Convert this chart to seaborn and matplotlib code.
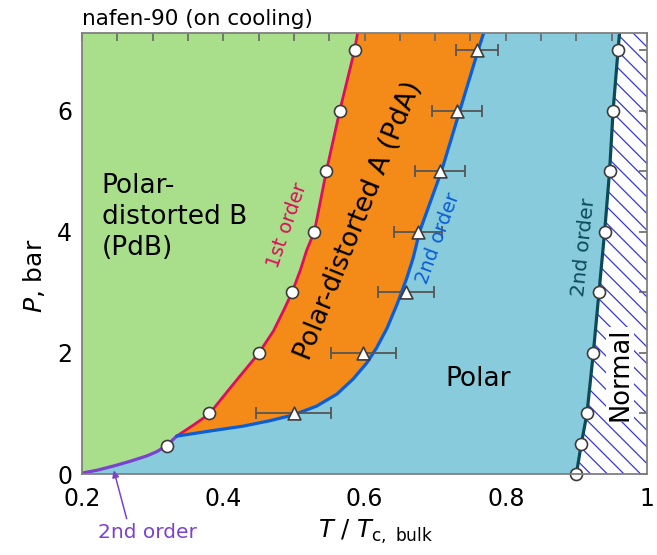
import matplotlib
matplotlib.use("Agg")
import matplotlib.pyplot as plt
import seaborn as sns
import numpy as np

sns.set_theme(style="white")
plt.rcParams['font.family'] = ['DejaVu Sans']
plt.rcParams['mathtext.fontset'] = 'dejavusans'
plt.rcParams['hatch.linewidth'] = 0.9
plt.rcParams['text.color'] = 'black'
plt.rcParams['axes.labelcolor'] = 'black'
plt.rcParams['xtick.labelcolor'] = 'black'
plt.rcParams['ytick.labelcolor'] = 'black'

# ---------------- data ----------------
# PdB -> PdA (1st order) transition, circles
pdb_T = [0.320, 0.380, 0.450, 0.497, 0.529, 0.546, 0.565, 0.586]
pdb_P = [0.47, 1.0, 2.0, 3.0, 4.0, 5.0, 6.0, 7.0]

# PdA -> Polar (2nd order) transition, triangles with error bars
pda_T = [0.500, 0.598, 0.659, 0.676, 0.707, 0.731, 0.759]
pda_P = [1.0, 2.0, 3.0, 4.0, 5.0, 6.0, 7.0]
pda_err = [0.053, 0.046, 0.040, 0.034, 0.035, 0.035, 0.030]

# Polar -> Normal transition, circles
tc_T = [0.900, 0.907, 0.915, 0.924, 0.932, 0.940, 0.947, 0.952, 0.959]
tc_P = [0.0, 0.5, 1.0, 2.0, 3.0, 4.0, 5.0, 6.0, 7.0]

# guide-line knots (phase boundaries)
purple_T = [0.200, 0.222, 0.244, 0.268, 0.292, 0.306, 0.320, 0.334]
purple_P = [0.015, 0.065, 0.13, 0.21, 0.30, 0.37, 0.47, 0.625]

red_T = [0.334, 0.358, 0.380, 0.414, 0.450, 0.471, 0.485, 0.497, 0.509, 0.518,
         0.529, 0.546, 0.565, 0.586, 0.592]
red_P = [0.625, 0.81, 0.99, 1.48, 1.99, 2.36, 2.69, 2.99, 3.36, 3.69,
         4.00, 5.00, 6.00, 7.00, 7.40]

blue_T = [0.334, 0.381, 0.428, 0.466, 0.499, 0.532, 0.561, 0.584, 0.603, 0.617,
          0.632, 0.646, 0.660, 0.669, 0.678, 0.709, 0.735, 0.761, 0.772]
blue_P = [0.625, 0.71, 0.79, 0.88, 0.975, 1.12, 1.32, 1.57, 1.83, 2.08,
          2.41, 2.80, 3.24, 3.57, 4.00, 5.00, 6.00, 7.00, 7.40]

teal_T = [0.900, 0.907, 0.915, 0.924, 0.932, 0.940, 0.947, 0.952, 0.959, 0.962]
teal_P = [0.0, 0.5, 1.0, 2.0, 3.0, 4.0, 5.0, 6.0, 7.0, 7.40]

# ---------------- colours ----------------
c_green = '#a9de8b'
c_orange = '#f48a18'
c_lblue = '#88cbdc'
c_red = '#dc0f5c'
c_blue = '#0a5fd6'
c_purple = '#7b42d0'
c_teal = '#0c4a58'
c_hatch = '#3535e0'

fig = plt.figure(figsize=(6.57, 5.55), dpi=100)
ax = fig.add_axes([0.1248, 0.1459, 0.86, 0.7946])

T_lo, T_hi = 0.2, 1.0
P_top = 7.40

# ---- region fills (polygons built from boundary arrays) ----
green_x = [T_lo] + purple_T + red_T[1:] + [T_lo]
green_y = [purple_P[0]] + purple_P + red_P[1:] + [P_top]
ax.fill(green_x, green_y, color=c_green, lw=0, zorder=0.5)

orange_x = red_T + blue_T[::-1]
orange_y = red_P + blue_P[::-1]
ax.fill(orange_x, orange_y, color=c_orange, lw=0, zorder=0.5)

lblue_x = [T_lo, T_lo] + purple_T + blue_T[1:] + teal_T[::-1]
lblue_y = [0.0, purple_P[0]] + purple_P + blue_P[1:] + teal_P[::-1]
ax.fill(lblue_x, lblue_y, color=c_lblue, lw=0, zorder=0.5)

norm_x = teal_T + [T_hi, T_hi]
norm_y = teal_P + [P_top, 0.0]
ax.fill(norm_x, norm_y, facecolor='white', edgecolor=c_hatch, hatch='\\\\', lw=0, zorder=0.5)

# ---- boundary lines ----
lw = 2.0
sns.lineplot(x=purple_T, y=purple_P, sort=False, estimator=None, color=c_purple, lw=lw + 0.3, ax=ax, zorder=2)
sns.lineplot(x=red_T, y=red_P, sort=False, estimator=None, color=c_red, lw=lw, ax=ax, zorder=2)
sns.lineplot(x=blue_T, y=blue_P, sort=False, estimator=None, color=c_blue, lw=lw + 0.3, ax=ax, zorder=2)
sns.lineplot(x=teal_T, y=teal_P, sort=False, estimator=None, color=c_teal, lw=lw + 0.3, ax=ax, zorder=2)

# ---- error bars + markers ----
ax.errorbar(pda_T, pda_P, xerr=pda_err, fmt='none', ecolor='#555555',
            elinewidth=1.3, capsize=4, capthick=1.3, zorder=2.2)
sns.scatterplot(x=pdb_T, y=pdb_P, marker='o', s=75, color='white',
                edgecolor='#3c3c3c', linewidth=1.2, ax=ax, zorder=2.4, clip_on=False)
sns.scatterplot(x=tc_T, y=tc_P, marker='o', s=75, color='white',
                edgecolor='#3c3c3c', linewidth=1.2, ax=ax, zorder=2.4, clip_on=False)
sns.scatterplot(x=pda_T, y=pda_P, marker='^', s=85, color='white',
                edgecolor='#3c3c3c', linewidth=1.2, ax=ax, zorder=2.45, clip_on=False)

# ---- axes styling ----
ax.set_xlim(T_lo, T_hi)
ax.set_ylim(0, 7.28)
ax.set_xticks([0.2, 0.4, 0.6, 0.8, 1.0])
ax.set_xticklabels(['0.2', '0.4', '0.6', '0.8', '1'])
ax.set_xticks(np.arange(0.2, 1.0001, 0.05), minor=True)
ax.set_yticks([0, 2, 4, 6])
ax.set_yticks([1, 3, 5, 7], minor=True)
ax.tick_params(which='both', direction='in', top=True, right=True,
               color='#666666', width=1.2, length=6)
ax.tick_params(axis='x', which='major', labelsize=17, pad=9, labelcolor='black')
ax.tick_params(axis='y', which='major', labelsize=17, pad=7, labelcolor='black')
for sp in ax.spines.values():
    sp.set_color('#808080')
    sp.set_linewidth(1.3)
    sp.set_zorder(2.5)

ax.set_xlabel(r'$T\ /\ T_{\rm c,\ bulk}$', fontsize=17.5, color='black')
ax.xaxis.set_label_coords(0.52, -0.100)
ax.set_ylabel(r'$P$, bar', fontsize=18, color='black')
ax.yaxis.set_label_coords(-0.062, 0.45)

ax.set_title('nafen-90 (on cooling)', loc='left', fontsize=15.5, pad=6, color='black')

# ---- region & line labels ----
ax.text(0.228, 4.25, 'Polar-\ndistorted B\n(PdB)', fontsize=19, ha='left', va='center',
        linespacing=1.25, zorder=5)
ax.text(0.591, 4.18, 'Polar-distorted A (PdA)', fontsize=19, rotation=68,
        ha='center', va='center', rotation_mode='anchor', zorder=5)
ax.text(0.761, 1.57, 'Polar', fontsize=19, ha='center', va='center', zorder=5)
ax.text(0.962, 1.65, 'Normal', fontsize=18.5, rotation=90, ha='center', va='center',
        zorder=5, bbox=dict(facecolor='white', edgecolor='none', pad=0.5))
ax.text(0.490, 4.1, '1st order', fontsize=14, color=c_red, rotation=71,
        ha='center', va='center', rotation_mode='anchor', zorder=5)
ax.text(0.704, 3.9, '2nd order', fontsize=14, color=c_blue, rotation=70,
        ha='center', va='center', rotation_mode='anchor', zorder=5)
ax.text(0.910, 3.74, '2nd order', fontsize=14.5, color=c_teal, rotation=84,
        ha='center', va='center', rotation_mode='anchor', zorder=5)
ax.annotate('2nd order', xy=(0.245, 0.06), xytext=(0.293, -0.97),
            fontsize=14.5, color=c_purple, ha='center', va='center',
            annotation_clip=False, zorder=5,
            arrowprops=dict(arrowstyle='-|>', color=c_purple, lw=1.1,
                            mutation_scale=10, relpos=(0.3, 1.0), shrinkA=1, shrinkB=0))

fig.savefig('out.png', dpi=100)
